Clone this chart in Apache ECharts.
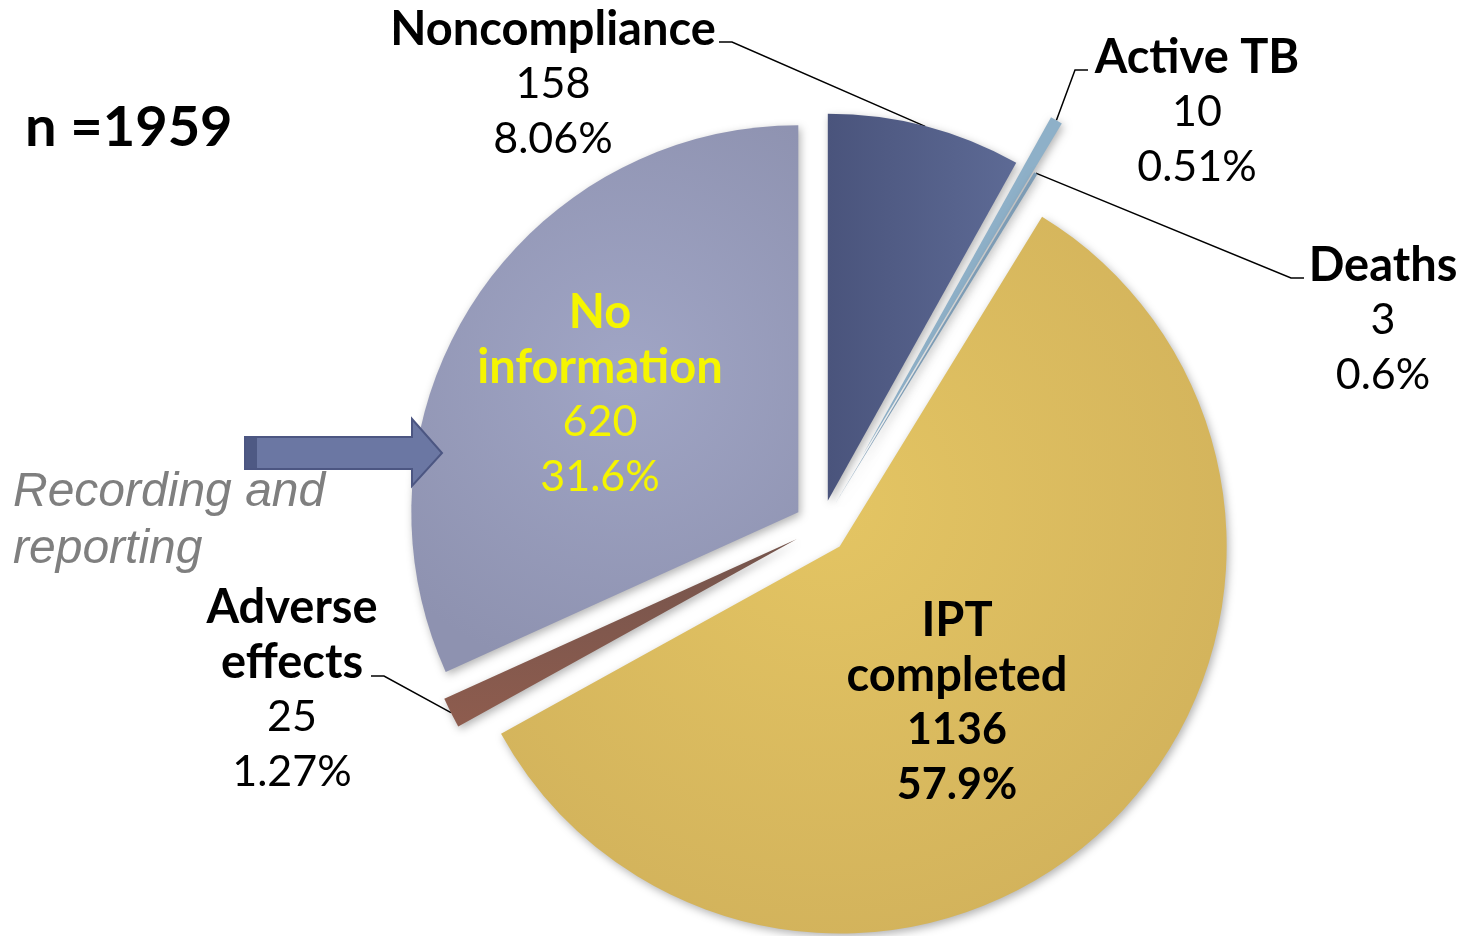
<!DOCTYPE html>
<html>
<head>
<meta charset="utf-8">
<title>IPT outcomes</title>
<script src="https://cdn.jsdelivr.net/npm/echarts@6/dist/echarts.min.js"></script>
<style>
html, body { margin:0; padding:0; background:#fff; }
#pie { width:1466px; height:936px; }
</style>
</head>
<body>
<div id="pie"></div>
<script>
var categories = ['Noncompliance', 'Active TB', 'Deaths', 'IPT completed', 'Adverse effects', 'No information'];
var counts = [158, 10, 3, 1136, 25, 620];
var percentLabels = ['8.06%', '0.51%', '0.6%', '57.9%', '1.27%', '31.6%'];
var totalLabel = 'n =1959';
var sideNote = 'Recording and\nreporting';

window.onload = function(){
	var myChart = echarts.init(document.getElementById('pie'));
	var cx = 821, cy = 527, r = 387;
	// each slice pulled out along its bisector (Active TB further than the rest)
	var offsets = [27, 83, 27, 27, 27, 27];
	var wrapNames = {'IPT completed':1, 'Adverse effects':1, 'No information':1};

	var total = counts.reduce(function(a, b){ return a + b; }, 0);
	var acc = 0;
	var mids = counts.map(function(v){
		var m = (acc + v / 2) / total * 2 * Math.PI;
		acc += v;
		return m;
	});

	var shadow = {shadowBlur:8, shadowColor:'rgba(0,0,0,0.3)', shadowOffsetX:2, shadowOffsetY:3};
	function lin(x, y, x2, y2, a, b){
		return {type:'linear', x:x, y:y, x2:x2, y2:y2, colorStops:[{offset:0, color:a}, {offset:1, color:b}]};
	}
	function rad(x, y, rr, a, b){
		return {type:'radial', x:x, y:y, r:rr, colorStops:[{offset:0, color:a}, {offset:1, color:b}]};
	}
	var sliceColors = [
		lin(0, 0, 1, 0, '#4a547c', '#5d6a95'),
		'#8eb0c8',
		'#7d9cb5',
		rad(0.45, 0.4, 0.75, '#e4c563', '#cfaf5a'),
		lin(0, 0, 0, 1, '#74544c', '#8e5c4e'),
		rad(0.55, 0.45, 0.8, '#a0a5c5', '#8e92b0')
	];

	// label anchor (center x, top y) and where the leader line meets the text
	var labelSpots = [
		{x:553, y:2, line:[719, 42], side:1},
		{x:1197, y:30, line:[1088, 70], side:-1},
		{x:1383, y:238, line:[1304, 278], side:-1},
		{x:957, y:593},
		{x:292, y:580, line:[371, 676], side:1},
		{x:600, y:285}
	];

	var font = 'Lato';
	var rich = {
		n:{fontFamily:font, fontWeight:'bold', fontSize:47, lineHeight:55, color:'#000'},
		b:{fontFamily:font, fontWeight:'bold', fontSize:43, lineHeight:55, color:'#000'},
		v:{fontFamily:font, fontSize:43, lineHeight:55, color:'#000'},
		yn:{fontFamily:font, fontWeight:'bold', fontSize:47, lineHeight:55, color:'#f5f500'},
		yv:{fontFamily:font, fontSize:43, lineHeight:55, color:'#f5f500'}
	};

	function labelText(i){
		var ns = i === 5 ? 'yn' : 'n';
		var vs = i === 5 ? 'yv' : (i === 3 ? 'b' : 'v');
		var names = wrapNames[categories[i]] ? categories[i].split(' ') : [categories[i]];
		var lines = names.map(function(s){ return '{' + ns + '|' + s + '}'; });
		lines.push('{' + vs + '|' + counts[i] + '}');
		lines.push('{' + vs + '|' + percentLabels[i] + '}');
		return lines.join('\n');
	}

	var series = counts.map(function(v, i){
		var c = [cx + offsets[i] * Math.sin(mids[i]), cy - offsets[i] * Math.cos(mids[i])];
		var anchor = [c[0] + r * Math.sin(mids[i]), c[1] - r * Math.cos(mids[i])];
		var spot = labelSpots[i];
		return {
			type:'pie',
			radius:r,
			center:c,
			startAngle:90,
			clockwise:true,
			silent:true,
			animation:false,
			avoidLabelOverlap:false,
			data: categories.map(function(name, j){
				var shown = j === i;
				return {
					name:name,
					value:counts[j],
					itemStyle: shown ? echarts.util.extend({color:sliceColors[j]}, shadow) : {color:'rgba(0,0,0,0)'},
					label:{show:shown},
					labelLine:{show:shown && !!spot.line}
				};
			}),
			label:{
				position: spot.line ? 'outside' : 'inside',
				formatter:function(){ return labelText(i); },
				rich:rich
			},
			labelLine:{lineStyle:{color:'#000', width:1.5}},
			labelLayout:function(p){
				if (p.dataIndex !== i) return;
				var out = {x:spot.x, y:spot.y, align:'center', verticalAlign:'top'};
				if (spot.line) {
					out.labelLinePoints = [anchor, [spot.line[0] + spot.side * 13, spot.line[1]], spot.line];
				}
				return out;
			}
		};
	});

	var option = {
		backgroundColor:'#fff',
		graphic:[
			{type:'text', left:25, top:100, z:100, style:{text:totalLabel, font:'bold 56px Lato', fill:'#000'}},
			{type:'text', left:13, top:464, z:100, style:{text:sideNote, font:'italic 48px "Liberation Sans"', fill:'#7f7f7f', lineHeight:57}},
			{type:'polygon', z:100, shape:{points:[[245,437],[412,437],[412,419],[442,453],[412,486],[412,469],[245,469]]},
				style:{fill:'#6b77a3', stroke:'#4c5682', lineWidth:2}},
			{type:'rect', z:101, shape:{x:246, y:438, width:11, height:30}, style:{fill:'#4e5984'}}
		],
		series:series
	};
	myChart.setOption(option);
	window.addEventListener('resize', function(){
		myChart.resize();
	});
};
</script>
</body>
</html>
